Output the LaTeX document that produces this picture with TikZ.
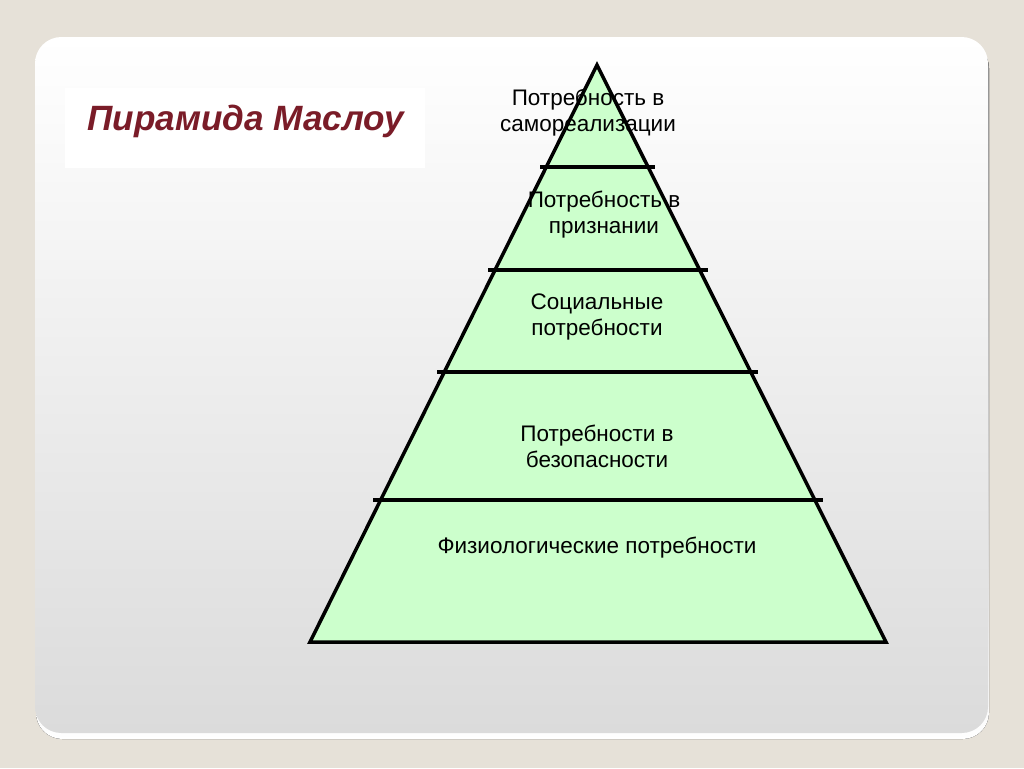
\documentclass[tikz,border=0pt]{standalone}
\usepackage{fontspec}
\setmainfont{Liberation Sans}
\usetikzlibrary{calc}
\definecolor{bg}{HTML}{E6E1D8}
\definecolor{shade}{HTML}{ADA9A1}
\definecolor{panelbot}{HTML}{DBDBDB}
\definecolor{titlered}{HTML}{7A1C28}
\definecolor{level}{HTML}{CCFFCC}
\tikzset{
  edge/.style={draw=black, line width=2pt, line join=miter},
  cut/.style={draw=black, line width=2pt},
  lab/.style={align=center, font=\fontsize{12.8}{14.8}\selectfont, inner sep=0pt},
  ttl/.style={text=titlered, font=\fontsize{20}{24}\selectfont\bfseries\itshape, inner sep=0pt, anchor=west},
}

\begin{document}
\begin{tikzpicture}[x=0.02cm, y=-0.02cm]
  \useasboundingbox (0,0) rectangle (1024,768);
  \fill[bg] (0,0) rectangle (1024,768);
  % panel and its shadow
  \fill[shade, rounded corners=15] (36,42) rectangle (989,739);
  \shade[top color=white, bottom color=panelbot, rounded corners=15] (35,37) rectangle (988,733);

  % title
  \fill[white] (65,88) rectangle (425,168);
  \node[ttl] (title) at (87,121) {Пирамида Маслоу};

  % pyramid
  \coordinate (apex) at (597,65);
  \coordinate (bl) at (310,642);
  \coordinate (br) at (886,642);
  \filldraw[edge, fill=level] (apex) -- (br) -- (bl) -- cycle;

  \draw[cut] (540,167) -- (655,167);
  \draw[cut] (488,270) -- (708,270);
  \draw[cut] (437,372) -- (758,372);
  \draw[cut] (373,500) -- (823,500);

  \node[lab] (self)   at (588,113) {Потребность в\\самореализации};
  \node[lab] (esteem) at (604,215) {Потребность в\\признании};
  \node[lab] (social) at (597,317) {Социальные\\потребности};
  \node[lab] (safety) at (597,446) {Потребности в\\безопасности};
  \node[lab] (body)   at (597,548) {Физиологические потребности};
\end{tikzpicture}
\end{document}
